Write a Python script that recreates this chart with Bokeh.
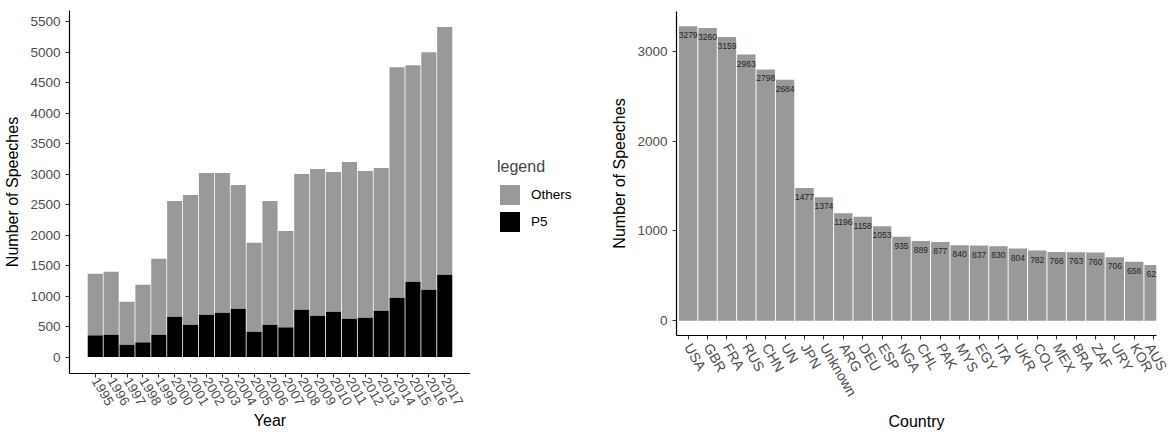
import math
from bokeh.plotting import figure
from bokeh.layouts import row, column
from bokeh.models import Range1d, FixedTicker, Legend, LegendItem, ColumnDataSource
from bokeh.core.properties import value
from bokeh.embed import file_html
from bokeh.resources import INLINE

# ---------------- data ----------------
years = [1995, 1996, 1997, 1998, 1999, 2000, 2001, 2002, 2003, 2004, 2005, 2006,
         2007, 2008, 2009, 2010, 2011, 2012, 2013, 2014, 2015, 2016, 2017]
p5_speeches = [355, 371, 207, 240, 371, 666, 535, 698, 731, 797, 420, 535,
               486, 780, 682, 748, 633, 649, 764, 977, 1239, 1108, 1353]
others_speeches = [1009, 1026, 699, 944, 1239, 1893, 2122, 2319, 2286, 2024, 1452, 2024,
                   1582, 2221, 2401, 2286, 2564, 2401, 2335, 3776, 3546, 3890, 4060]
left_yticks = [0, 500, 1000, 1500, 2000, 2500, 3000, 3500, 4000, 4500, 5000, 5500]
legend_labels = ["Others", "P5"]
legend_colors = ["#999999", "black"]

countries = ["USA", "GBR", "FRA", "RUS", "CHN", "UN", "JPN", "Unknown", "ARG", "DEU",
             "ESP", "NGA", "CHL", "PAK", "MYS", "EGY", "ITA", "UKR", "COL", "MEX",
             "BRA", "ZAF", "URY", "KOR", "AUS"]
country_speeches = [3279, 3260, 3159, 2963, 2798, 2684, 1477, 1374, 1196, 1158,
                    1053, 935, 889, 877, 840, 837, 830, 804, 782, 766,
                    763, 760, 706, 658, 622]
right_yticks = [0, 1000, 2000, 3000]

FONT = "Liberation Sans"
GREY = "#999999"
TICK_TXT = "#4D4D4D"
H = 434


def style_axes(p):
    for ax in (p.xaxis[0], p.yaxis[0]):
        ax.axis_line_color = "black"
        ax.axis_line_width = 1.2
        ax.major_tick_line_color = "#333333"
        ax.major_tick_line_width = 1.1
        ax.major_tick_out = 4
        ax.major_tick_in = 0
        ax.minor_tick_line_color = None
        ax.major_label_text_font = FONT
        ax.major_label_text_font_size = "13.5px"
        ax.major_label_text_color = TICK_TXT
        ax.axis_label_text_font = FONT
        ax.axis_label_text_font_size = "16px"
        ax.axis_label_text_font_style = "normal"
        ax.axis_label_text_color = "black"
    p.xgrid.grid_line_color = None
    p.ygrid.grid_line_color = None
    p.outline_line_color = None
    p.background_fill_color = "white"
    p.border_fill_color = "white"


# ---------------- left chart ----------------
ymax_l = max(p + o for p, o in zip(p5_speeches, others_speeches))
pad_l = 0.05 * ymax_l
src_l = ColumnDataSource(dict(year=years, P5=p5_speeches, Others=others_speeches))

p1 = figure(width=470, height=H, output_backend="svg", toolbar_location=None,
            x_range=Range1d(years[0] - 0.475 - 1.1475, years[-1] + 0.475 + 1.1475),
            y_range=Range1d(-pad_l, ymax_l + pad_l),
            min_border_left=69, min_border_right=0, min_border_top=10, min_border_bottom=61)
rs = p1.vbar_stack(["P5", "Others"], x="year", width=0.95, source=src_l,
                   color=["black", GREY], line_color=None)
p1.xaxis.ticker = FixedTicker(ticks=years)
p1.yaxis.ticker = FixedTicker(ticks=left_yticks)
p1.xaxis.major_label_orientation = -math.pi / 3
p1.xaxis.axis_label = "Year"
p1.yaxis.axis_label = "Number of Speeches"
style_axes(p1)
p1.xaxis.major_label_standoff = 1
p1.xaxis.axis_label_standoff = 0
p1.yaxis.axis_label_standoff = 6

# ---------------- legend panel ----------------
pl = figure(width=128, height=H, output_backend="svg", toolbar_location=None,
            x_range=Range1d(0, 1), y_range=Range1d(0, 1),
            x_axis_location=None, y_axis_location=None,
            min_border_left=0, min_border_right=0, min_border_top=0, min_border_bottom=43)
pl.xgrid.grid_line_color = None
pl.ygrid.grid_line_color = None
pl.outline_line_color = None
proxy = ColumnDataSource(dict(x=[-5, -5], top=[0, 0], color=legend_colors))
r_leg = pl.vbar(x="x", top="top", width=0.9, source=proxy, color="color", line_color=None)
legend = Legend(items=[LegendItem(label=legend_labels[0], renderers=[r_leg], index=0),
                       LegendItem(label=legend_labels[1], renderers=[r_leg], index=1)],
                title="legend", location="center_left", orientation="vertical")
legend.title_text_font = FONT
legend.title_text_font_size = "16px"
legend.title_text_font_style = "normal"
legend.title_standoff = 6
legend.label_text_font = FONT
legend.label_text_font_size = "13.5px"
legend.label_text_color = "black"
legend.glyph_width = 25
legend.glyph_height = 25
legend.spacing = 2
legend.padding = 0
legend.margin = 27
legend.label_standoff = 9
legend.border_line_color = None
legend.background_fill_alpha = 0
pl.add_layout(legend, "center")

# ---------------- right chart ----------------
idx = list(range(len(countries)))
ymax_r = max(country_speeches)
pad_r = 0.05 * ymax_r
src_r = ColumnDataSource(dict(x=idx, n=country_speeches,
                              lab=[str(v) for v in country_speeches]))

p2 = figure(width=572, height=H, output_backend="svg", toolbar_location=None,
            x_range=Range1d(-0.6, 24.15),
            y_range=Range1d(-pad_r, ymax_r + pad_r),
            min_border_left=78, min_border_right=14, min_border_top=11, min_border_bottom=99)
p2.vbar(x="x", top="n", width=0.95, source=src_r, color=GREY, line_color=None)
p2.text(x="x", y="n", text="lab", source=src_r, text_align="center",
        text_baseline="middle", y_offset=9, text_font=value(FONT),
        text_font_size="8.5px", text_color="#222222")
p2.xaxis.ticker = FixedTicker(ticks=idx)
p2.xaxis.major_label_overrides = {i: c for i, c in zip(idx, countries)}
p2.yaxis.ticker = FixedTicker(ticks=right_yticks)
p2.xaxis.major_label_orientation = -math.pi / 3
p2.xaxis.axis_label = "Country"
p2.yaxis.axis_label = "Number of Speeches"
style_axes(p2)
p2.xaxis.major_label_text_font_size = "14px"
p2.xaxis.axis_label_standoff = 7
p2.yaxis.axis_label_standoff = 6

layout = row(column(p1), pl, column(p2))
open("out.html", "w").write(file_html(layout, INLINE))
